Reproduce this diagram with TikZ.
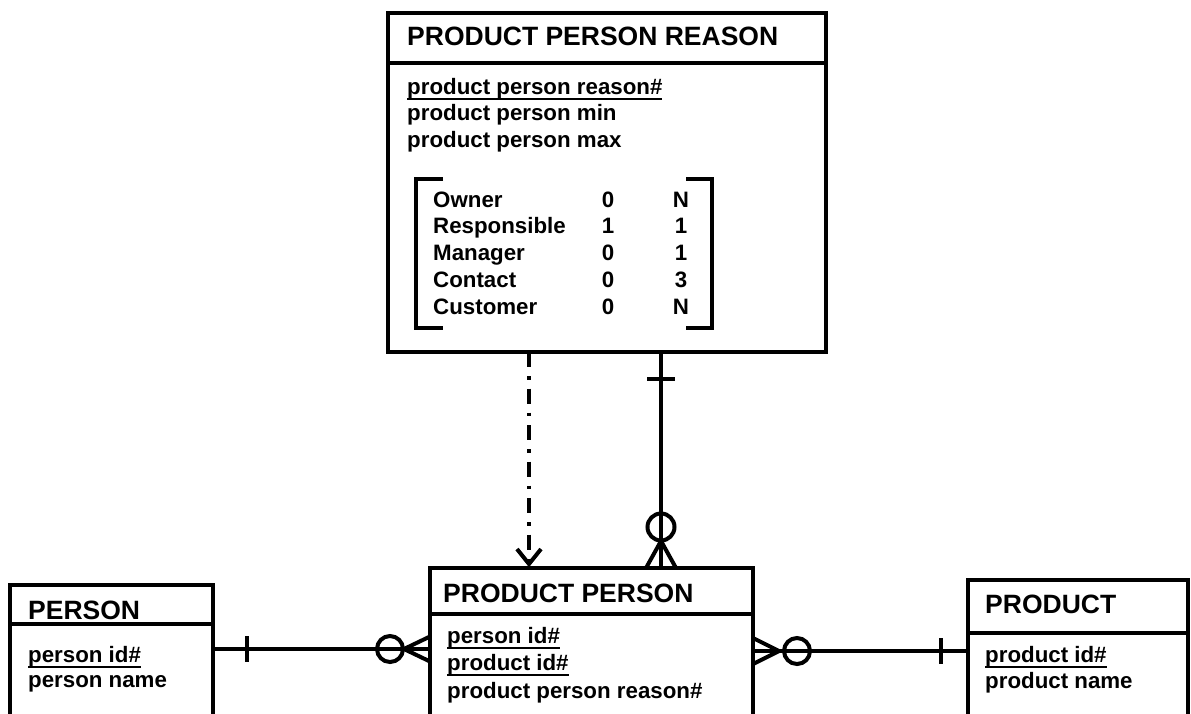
\documentclass[tikz,border=0pt]{standalone}
\usepackage{fontspec}
\setmainfont{Liberation Sans}
\usetikzlibrary{calc}
\newcommand{\ulx}[1]{\setbox0\hbox{#1}\rlap{\rule[-5.5pt]{\wd0}{2pt}}\box0}
\begin{document}
\begin{tikzpicture}[x=1pt,y=-1pt,
  ent/.style={draw,line width=4.5pt,rectangle,inner sep=0pt,outer sep=0pt},
  ttl/.style={anchor=base west,inner sep=0pt,font=\fontsize{26.5}{30}\selectfont\bfseries},
  att/.style={anchor=base west,inner sep=0pt,font=\fontsize{22.3}{26}\selectfont\bfseries},
  num/.style={anchor=base,inner sep=0pt,font=\fontsize{22.3}{26}\selectfont\bfseries},
  rel/.style={line width=4pt},
  divline/.style={line width=4pt},
  brk/.style={line width=3.5pt}]
\useasboundingbox (0,0) rectangle (1191,713);
\clip (0,0) rectangle (1191,713);

% entity boxes
\node[ent, minimum width=438pt, minimum height=339pt] (ppr) at (607,182.5) {};
\node[ent, minimum width=323pt, minimum height=192pt] (pp) at (591.5,664) {};
\node[ent, minimum width=203pt, minimum height=175pt] (person) at (111.5,672.5) {};
\node[ent, minimum width=220pt, minimum height=180pt] (product) at (1078,670) {};

% header dividers
\draw[divline] ($(ppr.north west)+(0,50)$) -- ($(ppr.north east)+(0,50)$);
\draw[divline] ($(pp.north west)+(0,46)$) -- ($(pp.north east)+(0,46)$);
\draw[divline] ($(person.north west)+(0,39)$) -- ($(person.north east)+(0,39)$);
\draw[divline] ($(product.north west)+(0,53)$) -- ($(product.north east)+(0,53)$);

% PRODUCT PERSON REASON texts
\node[ttl] (pprt) at (407,45) {PRODUCT PERSON REASON};
\node[att] (ppra1) at (407,94) {\ulx{product person reason\#}};
\node[att] (ppra2) at (407,120.7) {product person min};
\node[att] (ppra3) at (407,147.4) {product person max};

% inner table
\node[att] (r1) at (433,207) {Owner};
\node[att] (r2) at (433,233.9) {Responsible};
\node[att] (r3) at (433,260.8) {Manager};
\node[att] (r4) at (433,287.7) {Contact};
\node[att] (r5) at (433,314.6) {Customer};
\node[num] (m1) at (608,207) {0};
\node[num] (m2) at (608,233.9) {1};
\node[num] (m3) at (608,260.8) {0};
\node[num] (m4) at (608,287.7) {0};
\node[num] (m5) at (608,314.6) {0};
\node[num] (x1) at (681,207) {N};
\node[num] (x2) at (681,233.9) {1};
\node[num] (x3) at (681,260.8) {1};
\node[num] (x4) at (681,287.7) {3};
\node[num] (x5) at (681,314.6) {N};

% brackets
\draw[brk] (443,179) -- (416,179) -- (416,328) -- (443,328);
\draw[brk] (686,179) -- (712,179) -- (712,328) -- (686,328);

% PRODUCT PERSON texts
\node[ttl] (ppt) at (443,602) {PRODUCT PERSON};
\node[att] (ppa1) at (447,643) {\ulx{person id\#}};
\node[att] (ppa2) at (447,670.5) {\ulx{product id\#}};
\node[att] (ppa3) at (447,698) {product person reason\#};

% PERSON texts
\node[ttl] (pst) at (28,619) {PERSON};
\node[att] (psa1) at (28,662) {\ulx{person id\#}};
\node[att] (psa2) at (28,687) {person name};

% PRODUCT texts
\node[ttl] (prt) at (985,613) {PRODUCT};
\node[att] (pra1) at (985,662) {\ulx{product id\#}};
\node[att] (pra2) at (985,688) {product name};

% dash-dot relationship
\coordinate (dx) at (529,0);
\draw[rel, dash pattern=on 15pt off 9pt on 3.5pt off 9pt] (ppr.south -| dx) -- ($(pp.north -| dx)+(0,-4)$);
\draw[rel] ($(pp.north -| dx)+(-12,-19)$) -- ($(pp.north -| dx)+(0,-4)$) -- ($(pp.north -| dx)+(12,-19)$);

% solid relationship PPR - PP
\coordinate (sx) at (661,0);
\draw[rel] (ppr.south -| sx) -- (pp.north -| sx);
\draw[rel] ($(ppr.south -| sx)+(-14,27)$) -- ++(28,0);
\draw[rel] ($(pp.north -| sx)+(0,-41)$) circle[radius=13.5];
\draw[rel] ($(pp.north -| sx)+(-15,0)$) -- ($(pp.north -| sx)+(0,-27)$) -- ($(pp.north -| sx)+(15,0)$);

% PERSON - PP
\coordinate (ly) at (0,649);
\draw[rel] (person.east |- ly) -- (pp.west |- ly);
\draw[rel] ($(person.east |- ly)+(34,-13)$) -- ++(0,26);
\draw[rel] ($(pp.west |- ly)+(-40,0)$) circle[radius=13];
\draw[rel] ($(pp.west |- ly)+(0,-12.5)$) -- ($(pp.west |- ly)+(-26,0)$) -- ($(pp.west |- ly)+(0,12.5)$);

% PP - PRODUCT
\coordinate (ry) at (0,651);
\draw[rel] (pp.east |- ry) -- (product.west |- ry);
\draw[rel] ($(pp.east |- ry)+(0,-13)$) -- ($(pp.east |- ry)+(26,0)$) -- ($(pp.east |- ry)+(0,13)$);
\draw[rel] ($(pp.east |- ry)+(44,0)$) circle[radius=13];
\draw[rel] ($(product.west |- ry)+(-27,-13)$) -- ++(0,26);
\end{tikzpicture}
\end{document}
